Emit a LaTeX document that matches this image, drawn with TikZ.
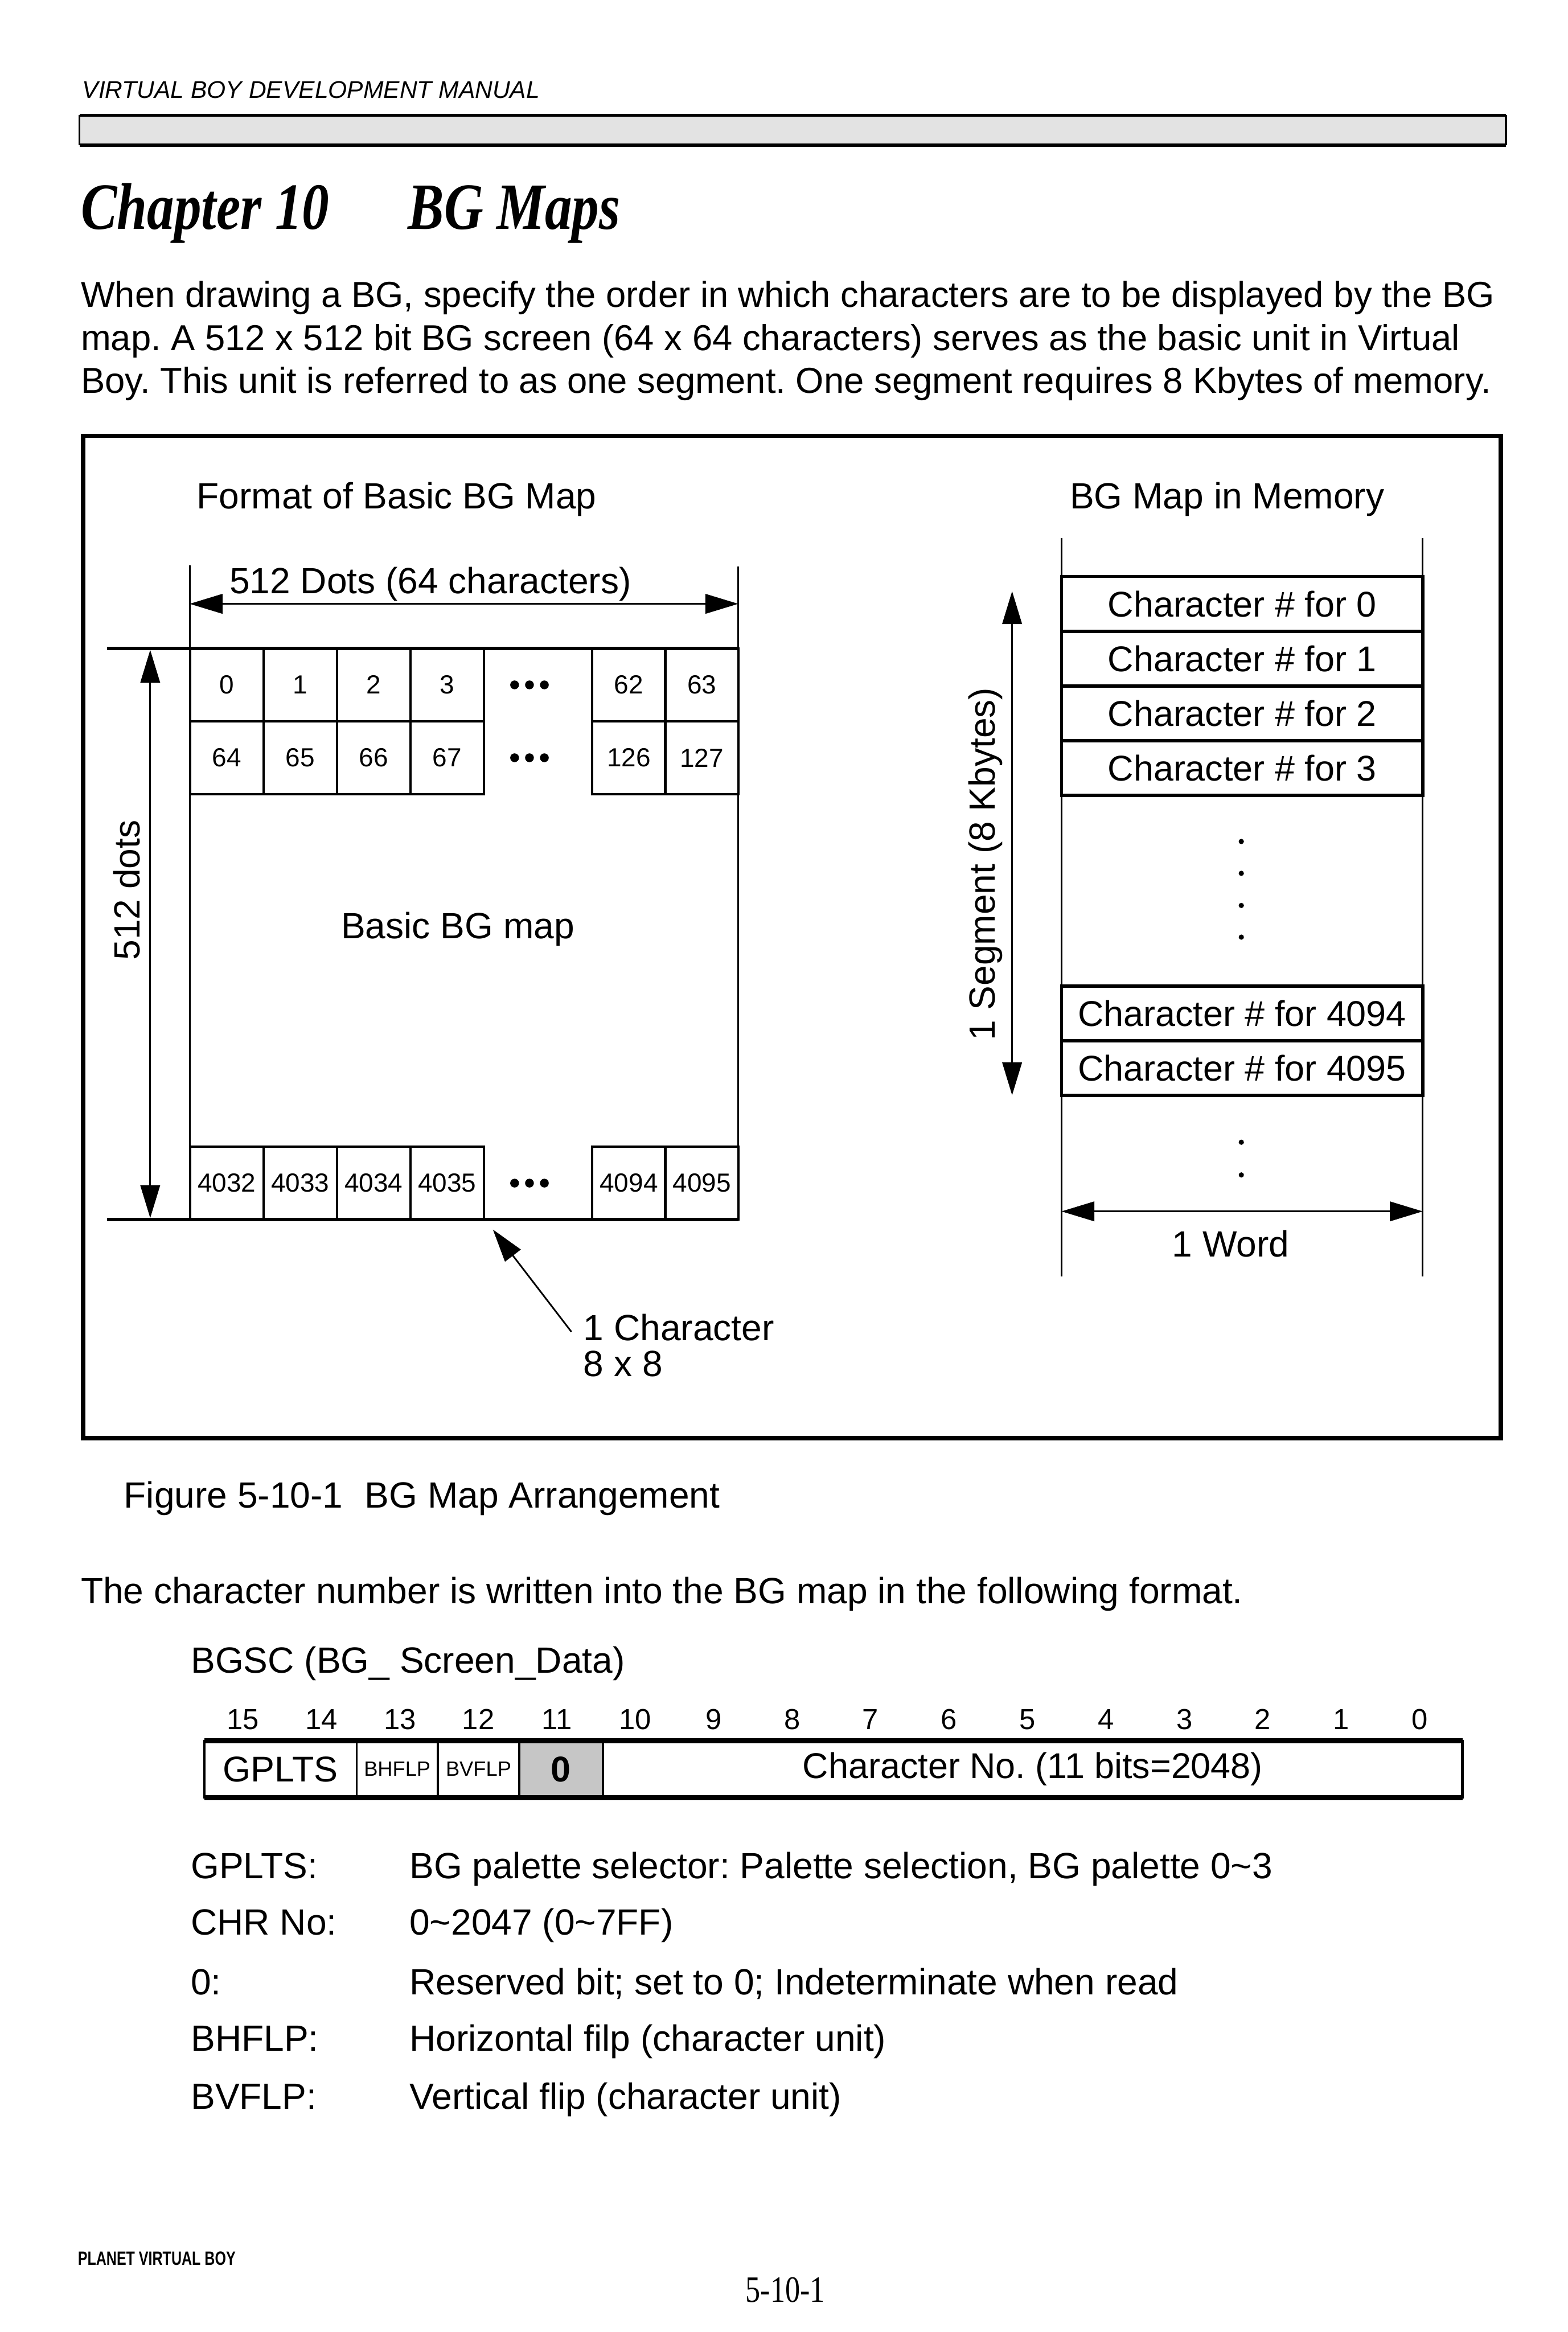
\documentclass[tikz,border=0pt]{standalone}
\usepackage{fontspec}
\setmainfont{Liberation Sans}
\newfontfamily\serifface{Liberation Serif}
\usepackage{tikz}
\usetikzlibrary{arrows.meta}
\frenchspacing

\begin{document}
\begin{tikzpicture}[
    x=0.018975cm,
    y=-0.018975cm,
    >={Triangle[length=0.42cm,width=0.25cm]},
    txt/.style={
        anchor=base west,
        inner sep=0pt,
        font=\fontsize{13.25}{16}\selectfont
    },
    cell/.style={
        draw,
        line width=0.8pt,
        inner sep=0pt,
        outer sep=0pt,
        minimum width=0.937cm,
        minimum height=0.930cm,
        font=\fontsize{9.5}{11}\selectfont
    },
    slot/.style={
        draw,
        line width=1.2pt,
        inner sep=0pt,
        outer sep=0pt,
        minimum width=4.609cm,
        minimum height=0.698cm,
        font=\fontsize{13}{16}\selectfont
    },
    field/.style={
        draw,
        line width=0.7pt,
        inner sep=0pt,
        outer sep=0pt,
        minimum height=0.727cm,
        font=\fontsize{13}{16}\selectfont
    },
    tiny/.style={
        font=\fontsize{7.5}{9}\selectfont
    },
    dimline/.style={
        line width=0.6pt,
        <->
    },
    guide/.style={
        line width=0.6pt
    }
]
\fill[white] (0,0) rectangle (1054,1568);
\useasboundingbox (0,0) rectangle (1054,1568);

% page head
\node[txt, font=\fontsize{8.8}{10}\selectfont\itshape] (header) at (55,66) {VIRTUAL BOY DEVELOPMENT MANUAL};
\fill[gray!22] (53.5,77.5) rectangle (1012.5,97.5);
\draw[line width=1.2pt] (53.5,77.5) -- (1012.5,77.5);
\draw[line width=1.2pt] (53.5,97.5) -- (1012.5,97.5);
\draw[line width=0.7pt] (53.5,77.5) -- (53.5,97.5);
\draw[line width=0.7pt] (1012.5,77.5) -- (1012.5,97.5);

\node[anchor=base west, inner sep=0pt] (chap) at (54,154)
    {\scalebox{0.82}[1]{\serifface\bfseries\itshape\fontsize{24}{28}\selectfont Chapter 10}};
\node[anchor=base west, inner sep=0pt] (chaptitle) at (274,154)
    {\scalebox{0.82}[1]{\serifface\bfseries\itshape\fontsize{24}{28}\selectfont BG Maps}};

\node[txt, font=\fontsize{13.1}{16}\selectfont] (body1) at (54,206.5) {When drawing a BG, specify the order in which characters are to be displayed by the BG};
\node[txt, font=\fontsize{13.1}{16}\selectfont] (body2) at (54,235.5) {map. A 512 x 512 bit BG screen (64 x 64 characters) serves as the basic unit in Virtual};
\node[txt, font=\fontsize{13.1}{16}\selectfont] (body3) at (54,264.5) {Boy. This unit is referred to as one segment. One segment requires 8 Kbytes of memory.};

% figure frame
\draw[line width=1.6pt] (56,293) rectangle (1009,967);

\node[txt] (lefttitle) at (132,342) {Format of Basic BG Map};
\node[txt] (righttitle) at (719,342) {BG Map in Memory};

% basic BG map
\coordinate (mapNE) at (496.4,436);
\coordinate (mapSW) at (127.5,820);
\coordinate (mapSE) at (496.4,820);
\coordinate (extL) at (127.5,380);
\coordinate (extR) at (496.4,381);
\coordinate (extT) at (72,436);
\coordinate (extB) at (72,820);

\draw[guide] (extL) -- (mapSW);
\draw[guide] (extR) -- (mapSE);
\draw[line width=1.4pt] (extT) -- (mapNE);
\draw[line width=1.4pt] (extB) -- (mapSE);

\foreach \cx/\lbl in {152.4/0,201.8/1,251.2/2,300.6/3,422.8/62,471.9/63}
    \node[cell] (c\lbl) at (\cx,460.5) {\lbl};
\foreach \cx/\lbl in {152.4/64,201.8/65,251.2/66,300.6/67,422.8/126,471.9/127}
    \node[cell] (c\lbl) at (\cx,509.5) {\lbl};
\foreach \cx/\lbl in {152.4/4032,201.8/4033,251.2/4034,300.6/4035,422.8/4094,471.9/4095}
    \node[cell] (c\lbl) at (\cx,795.5) {\lbl};

\foreach \ry in {460.5,509.5,795.5}
    \foreach \dx in {-10,0,10}
        \fill (356+\dx,\ry) circle[radius=1.6pt];

\node[txt] (basiclbl) at (229,631) {Basic BG map};

\coordinate (dotsL) at (127.5,406);
\coordinate (dotsR) at (496.4,406);
\draw[dimline] (dotsL) -- (dotsR);
\node[txt] (dotslbl) at (154,399) {512 Dots (64 characters)};

\coordinate (hgtT) at (101,437);
\coordinate (hgtB) at (101,819);
\draw[dimline] (hgtT) -- (hgtB);
\node[anchor=base, inner sep=0pt, rotate=90, font=\fontsize{13.25}{16}\selectfont] (hgtlbl) at (94,598.5) {512 dots};

\coordinate (ptrtail) at (384.2,895.5);
\coordinate (ptrtip) at (331.4,826.7);
\draw[line width=0.6pt, ->] (ptrtail) -- (ptrtip);
\node[txt] (charlbl) at (392,901.5) {1 Character};
\node[txt] (sizelbl) at (392,925.5) {8 x 8};

% BG map in memory
\coordinate (colLT) at (713.7,361.8);
\coordinate (colLB) at (713.7,858.2);
\coordinate (colRT) at (956.6,361.8);
\coordinate (colRB) at (956.6,858.2);
\draw[guide] (colLT) -- (colLB);
\draw[guide] (colRT) -- (colRB);

\foreach \sy/\n in {406/0,442.8/1,479.6/2,516.4/3,681.4/4094,718.05/4095}
    \node[slot] (w\n) at (835.15,\sy) {Character \# for \n};

\foreach \dy in {565.8,587.2,608.8,630.1,768,790}
    \fill (834.6,\dy) circle[radius=0.95pt];

\coordinate (segT) at (680.5,397.5);
\coordinate (segB) at (680.5,736.4);
\draw[dimline] (segT) -- (segB);
\node[anchor=base, inner sep=0pt, rotate=90, font=\fontsize{13.25}{16}\selectfont] (seglbl) at (669,581) {1 Segment (8 Kbytes)};

\coordinate (wordL) at (713.7,814.5);
\coordinate (wordR) at (956.6,814.5);
\draw[dimline] (wordL) -- (wordR);
\node[anchor=base, inner sep=0pt, font=\fontsize{13.25}{16}\selectfont] (wordlbl) at (827.4,845) {1 Word};

\node[txt] (caption) at (83,1014) {Figure 5-10-1\hspace{0.6em}BG Map Arrangement};

% register format
\node[txt] (intro) at (54,1078) {The character number is written into the BG map in the following format.};
\node[txt] (regname) at (128,1125) {BGSC (BG\_ Screen\_Data)};

\foreach \b in {0,...,15}
    \node[font=\fontsize{10.5}{12}\selectfont] (bit\b) at ({954.6-52.75*\b},1156) {\b};

\node[field, minimum width=1.943cm] (gplts) at (188.6,1189.55) {GPLTS};
\node[field, tiny, minimum width=1.036cm] (bhflp) at (267.1,1189.55) {BHFLP};
\node[field, tiny, minimum width=1.038cm] (bvflp) at (321.75,1189.55) {BVFLP};
\node[field, fill=gray!45, minimum width=1.068cm, font=\fontsize{13}{16}\selectfont\bfseries] (rsv) at (377.25,1189.55) {0};
\node[field, minimum width=10.97cm] (chrno) at (694.4,1189.55) {Character No. (11 bits=2048)};
\draw[line width=1.8pt] (gplts.north west) -- (chrno.north east);
\draw[line width=1.8pt] (gplts.south west) -- (chrno.south east);
\draw[line width=1pt] (gplts.north west) -- (gplts.south west);
\draw[line width=1pt] (chrno.north east) -- (chrno.south east);

\foreach \dy/\key/\desc [count=\k] in {
    1263/{GPLTS:}/{BG palette selector: Palette selection, BG palette 0\textasciitilde 3},
    1301/{CHR No:}/{0\textasciitilde 2047 (0\textasciitilde 7FF)},
    1341/{0:}/{Reserved bit; set to 0; Indeterminate when read},
    1379/{BHFLP:}/{Horizontal filp (character unit)},
    1418/{BVFLP:}/{Vertical flip (character unit)}}
{
    \node[txt] (key\k) at (128,\dy) {\key};
    \node[txt] (desc\k) at (275,\dy) {\desc};
}

% page foot
\node[anchor=base west, inner sep=0pt] (footer) at (52,1523)
    {\scalebox{0.74}[1]{\fontsize{7}{8}\selectfont\bfseries PLANET VIRTUAL BOY}};
\node[anchor=base west, inner sep=0pt] (pageno) at (501,1548)
    {\scalebox{0.8}[1]{\serifface\fontsize{13.5}{16}\selectfont 5-10-1}};

\end{tikzpicture}
\end{document}
